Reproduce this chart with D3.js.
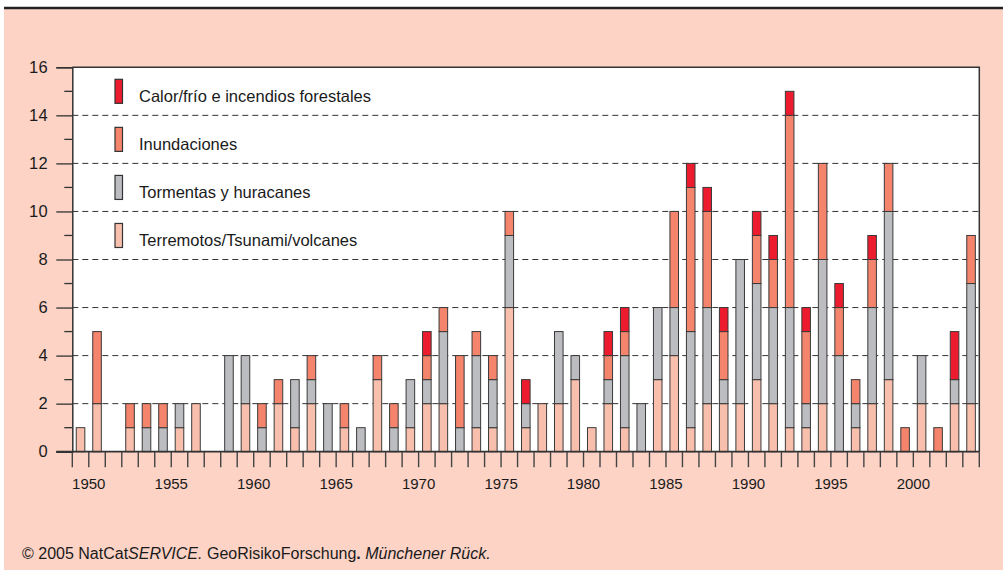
<!DOCTYPE html>
<html>
<head>
<meta charset="utf-8">
<script src="https://cdn.jsdelivr.net/npm/d3@7"></script>
<style>
html,body{margin:0;padding:0;background:#fff;}
svg{display:block;font-family:"Liberation Sans",Arial,Helvetica,sans-serif;}
</style>
</head>
<body>
<svg id="chart" width="1003" height="570"></svg>
<script>
const years = d3.range(1950, 2005);
const quake = [1,2,0,1,0,0,1,2,0,0, 2,0,2,1,2,0,1,0,3,0, 1,2,2,0,1,1,6,1,2,2, 3,1,2,1,0,3,4,1,2,2, 2,3,2,1,1,2,0,1,2,3, 0,2,0,2,2];
const storm = [0,0,0,0,1,1,1,0,0,4, 2,1,0,2,1,2,0,1,0,1, 2,1,3,1,3,2,3,1,0,3, 1,0,1,3,2,3,2,4,4,1, 6,4,4,5,1,6,4,1,4,7, 0,2,0,1,5];
const flood = [0,3,0,1,1,1,0,0,0,0, 0,1,1,0,1,0,1,0,1,1, 0,1,1,3,1,1,1,0,0,0, 0,0,1,1,0,0,4,6,4,2, 0,2,2,8,3,4,2,1,2,2, 1,0,1,0,2];
const heat  = [0,0,0,0,0,0,0,0,0,0, 0,0,0,0,0,0,0,0,0,0, 0,1,0,0,0,0,0,1,0,0, 0,0,1,1,0,0,0,1,1,1, 0,1,1,1,1,0,1,0,1,0, 0,0,0,2,0];
const seriesKeys = ["quake","storm","flood","heat"];
const seriesLabels = ["Terremotos/Tsunami/volcanes","Tormentas y huracanes","Inundaciones","Calor/frío e incendios forestales"];
const seriesColors = ["#f9bfad","#bcbdc1","#f4846c","#ec1c2e"];
const yTicks = [0,2,4,6,8,10,12,14,16];
const xLabelYears = [1950,1955,1960,1965,1970,1975,1980,1985,1990,1995,2000];

const svg = d3.select("#chart");
// background
svg.append("rect").attr("x",4).attr("y",8).attr("width",999).attr("height",562).attr("fill","#fdd3c6");
svg.append("line").attr("x1",4).attr("x2",1003).attr("y1",8).attr("y2",8).attr("stroke","#222").attr("stroke-width",2.6);

const L = 72.3, R = 979.3, T = 67.3, B = 451.7;
const x = d3.scaleBand().domain(years).range([L,R]).padding(0);
const xb = d3.scaleBand().domain(years).range([L,R]).paddingInner(0.48).paddingOuter(0.24);
const y = d3.scaleLinear().domain([0,16]).range([B,T]);

// plot area
svg.append("rect").attr("x",L).attr("y",T).attr("width",R-L).attr("height",B-T).attr("fill","#fff");

// grid
svg.append("g").selectAll("line").data(yTicks.filter(d=>d>0 && d<16)).join("line")
  .attr("x1",L).attr("x2",R).attr("y1",d=>y(d)).attr("y2",d=>y(d))
  .attr("stroke","#333").attr("stroke-width",1).attr("stroke-dasharray","6,4");

// stacked data
const table = years.map((yr,i)=>({year:yr, quake:quake[i], storm:storm[i], flood:flood[i], heat:heat[i]}));
const stacked = d3.stack().keys(seriesKeys)(table);
const gBars = svg.append("g");
stacked.forEach((s,si)=>{
  gBars.append("g").selectAll("rect").data(s.filter(d=>d[1]>d[0])).join("rect")
    .attr("x",d=>xb(d.data.year)).attr("width",xb.bandwidth())
    .attr("y",d=>y(d[1])).attr("height",d=>y(d[0])-y(d[1]))
    .attr("fill",seriesColors[si]).attr("stroke","#3a3a3a").attr("stroke-width",1);
});

// frame
svg.append("path").attr("d",`M${L},${T}H${R}V${B}`).attr("fill","none").attr("stroke","#333").attr("stroke-width",1.5);

// left axis
const yAxis = d3.axisLeft(y).tickValues(yTicks).tickSize(16).tickPadding(8).tickFormat(d3.format("d"));
const gy = svg.append("g").attr("transform",`translate(${L},0)`).call(yAxis);
gy.select(".domain").attr("stroke","#333").attr("stroke-width",1.5);
gy.selectAll(".tick line").attr("stroke","#333").attr("stroke-width",1.3);
gy.selectAll(".tick text").attr("font-size",16.5).attr("fill","#1a1a1a").attr("font-family","Liberation Sans, Arial, sans-serif").attr("letter-spacing",0.5);
// minor ticks
svg.append("g").selectAll("line").data(d3.range(1,16,2)).join("line")
  .attr("x1",L-8).attr("x2",L).attr("y1",d=>y(d)).attr("y2",d=>y(d))
  .attr("stroke","#333").attr("stroke-width",1.3);

// bottom axis ticks at band boundaries
const bounds = years.map(yr=>x(yr)).concat([x(years[years.length-1])+x.bandwidth()]);
svg.append("g").selectAll("line").data(bounds).join("line")
  .attr("x1",d=>d).attr("x2",d=>d).attr("y1",B).attr("y2",B+15.5)
  .attr("stroke","#444").attr("stroke-width",1.4);
svg.append("line").attr("x1",L-16).attr("x2",R).attr("y1",B).attr("y2",B).attr("stroke","#333").attr("stroke-width",1.8);

// x labels centered at end of labelled year's band
svg.append("g").selectAll("text").data(xLabelYears).join("text")
  .attr("x",d=>x(d)+x.bandwidth()).attr("y",489)
  .attr("text-anchor","middle").attr("font-size",15).attr("fill","#1a1a1a")
  .text(d=>d);

// legend
const legendOrder = [3,2,1,0];
const lg = svg.append("g");
legendOrder.forEach((si,i)=>{
  const sy = y(15.5 - i*2);
  lg.append("rect").attr("x",115).attr("y",sy).attr("width",7.5).attr("height",y(0)-y(1))
    .attr("fill",seriesColors[si]).attr("stroke","#333").attr("stroke-width",1.2);
  lg.append("text").attr("x",139).attr("y",sy+y(0)-y(1)-1.5).attr("font-size",16.5).attr("fill","#1a1a1a")
    .text(seriesLabels[si]);
});

// footer
const ft = svg.append("text").attr("x",22).attr("y",559).attr("font-size",16).attr("fill","#1a1a1a");
ft.append("tspan").text("© 2005 NatCat");
ft.append("tspan").attr("font-style","italic").text("SERVICE.");
ft.append("tspan").text(" GeoRisikoForschung");
ft.append("tspan").attr("font-weight","bold").text(".");
ft.append("tspan").attr("font-style","italic").text(" Münchener Rück.");
</script>
</body>
</html>
